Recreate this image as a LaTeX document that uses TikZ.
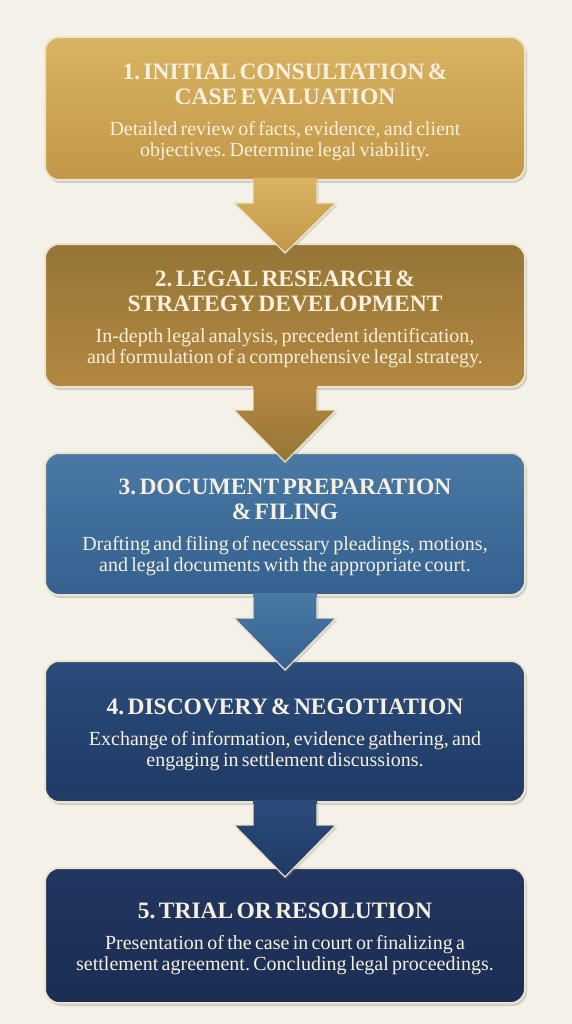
\documentclass[tikz,border=0pt]{standalone}
\usepackage{fontspec}
\setmainfont{Liberation Serif}
\usetikzlibrary{calc,shadows}

\definecolor{paper}{HTML}{F4F1E8}
\definecolor{rim}{HTML}{EEE4CB}
\definecolor{ink}{HTML}{F7F0DE}
\definecolor{goldtop}{HTML}{D8B462}
\definecolor{goldbot}{HTML}{C29747}
\definecolor{bronzetop}{HTML}{957636}
\definecolor{bronzebot}{HTML}{B38740}
\definecolor{bluetop}{HTML}{4A79A6}
\definecolor{bluebot}{HTML}{34618F}
\definecolor{navytop}{HTML}{2B4B7A}
\definecolor{navybot}{HTML}{1F3B66}
\definecolor{nighttop}{HTML}{213660}
\definecolor{nightbot}{HTML}{1B2D53}

\frenchspacing
\newcommand{\steptitle}[1]{{\fontsize{23.5}{25}\selectfont\bfseries\rule{0pt}{23pt}#1\par}\vspace{10pt}}
\newcommand{\stepbody}[1]{{\fontsize{20}{21}\selectfont #1\par}}

% arrow from box #1 down into box #2
\newcommand{\flowarrow}[4]{
  \path[top color=#3, bottom color=#4, drop shadow={opacity=0.25,shadow xshift=1.5pt,shadow yshift=-2.5pt}]
    ($(#1.south)+(-32,-3)$) -- ($(#1.south)+(-32,22)$) -- ($(#1.south)+(-51,22)$)
    -- ($(#2.north)+(0,10)$) -- ($(#1.south)+(51,22)$) -- ($(#1.south)+(32,22)$)
    -- ($(#1.south)+(32,-3)$) -- cycle;
  \draw[rim, line width=1.2pt, line join=miter]
    ($(#1.south)+(-32,1)$) -- ($(#1.south)+(-32,22)$) -- ($(#1.south)+(-51,22)$)
    -- ($(#2.north)+(0,10)$) -- ($(#1.south)+(51,22)$) -- ($(#1.south)+(32,22)$)
    -- ($(#1.south)+(32,1)$);
}

\begin{document}
\begin{tikzpicture}[x=1pt, y=-1pt,
    stepbox/.style={rounded corners=14pt, draw=rim, line width=2pt,
      minimum width=480pt, text width=466pt, align=center, text=ink,
      inner sep=0pt,
      drop shadow={opacity=0.3,shadow xshift=2pt,shadow yshift=-3pt}}]
  \fill[paper] (0,0) rectangle (572,1024);
  \useasboundingbox (0,0) rectangle (572,1024);

  \node[stepbox, minimum height=143pt, top color=goldtop, bottom color=goldbot] (s1) at (285,108.5)
    {\steptitle{1. INITIAL CONSULTATION \&\\CASE EVALUATION}%
     \stepbody{Detailed review of facts, evidence, and client\\objectives. Determine legal viability.}};
  \node[stepbox, minimum height=143pt, top color=bronzetop, bottom color=bronzebot] (s2) at (285,315.5)
    {\steptitle{2. LEGAL RESEARCH \&\\STRATEGY DEVELOPMENT}%
     \stepbody{In-depth legal analysis, precedent identification,\\and formulation of a comprehensive legal strategy.}};
  \node[stepbox, minimum height=142pt, top color=bluetop, bottom color=bluebot] (s3) at (285,524)
    {\steptitle{3. DOCUMENT PREPARATION\\\& FILING}%
     \stepbody{Drafting and filing of necessary pleadings, motions,\\and legal documents with the appropriate court.}};
  \node[stepbox, minimum height=141pt, top color=navytop, bottom color=navybot] (s4) at (285,731.5)
    {\steptitle{4. DISCOVERY \& NEGOTIATION}%
     \stepbody{Exchange of information, evidence gathering, and\\engaging in settlement discussions.}};
  \node[stepbox, minimum height=135pt, top color=nighttop, bottom color=nightbot] (s5) at (285,935.5)
    {\steptitle{5. TRIAL OR RESOLUTION}%
     \stepbody{Presentation of the case in court or finalizing a\\settlement agreement. Concluding legal proceedings.}};

  \flowarrow{s1}{s2}{goldtop}{goldbot}
  \flowarrow{s2}{s3}{bronzebot}{bronzetop}
  \flowarrow{s3}{s4}{bluetop}{bluebot}
  \flowarrow{s4}{s5}{navytop}{navybot}
\end{tikzpicture}
\end{document}
